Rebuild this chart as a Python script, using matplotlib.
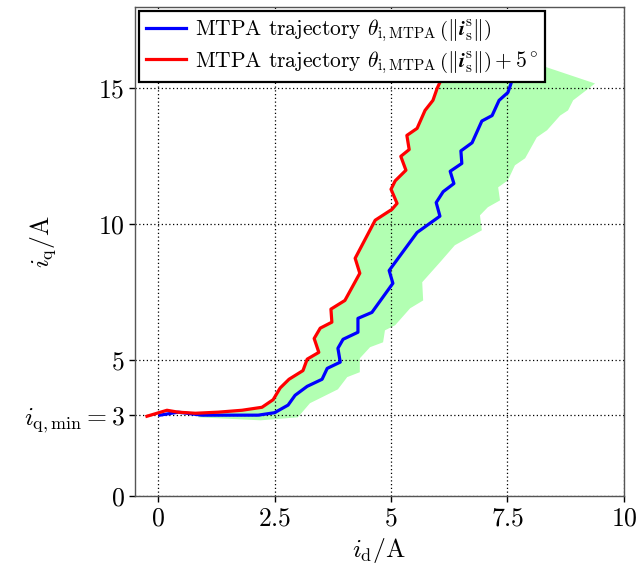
import numpy as np
import matplotlib
matplotlib.use('Agg')
import matplotlib.pyplot as plt

plt.rcParams['font.family'] = 'serif'
plt.rcParams['font.serif'] = ['cmr10']
plt.rcParams['mathtext.fontset'] = 'cm'
plt.rcParams['axes.unicode_minus'] = False

# MTPA trajectory (blue)
mtpa_id = [0.04, 0.43, 0.94, 2.15, 2.5, 2.79, 2.94, 3.2, 3.52, 3.63, 3.91, 3.86, 3.97,
           4.29, 4.29, 4.59, 5.04, 4.96, 5.56, 6.05, 5.97, 6.12, 6.35, 6.27, 6.52, 6.5,
           6.74, 6.95, 7.17, 7.32, 7.51, 7.6, 7.68, 7.8]
mtpa_iq = [2.98, 3.09, 2.98, 2.98, 3.07, 3.35, 3.71, 4.04, 4.3, 4.7, 4.93, 5.44, 5.77,
           6.03, 6.54, 6.76, 7.83, 8.3, 9.7, 10.3, 10.8, 11.2, 11.5, 11.95, 12.24, 12.7,
           13.0, 13.8, 14.0, 14.56, 14.85, 15.3, 15.66, 16.0]

# MTPA trajectory + 5 deg (red)
mtpa5_id = [-0.24, 0.19, 0.43, 0.8, 1.29, 1.8, 2.23, 2.47, 2.62, 2.81, 3.11, 3.2, 3.45,
            3.35, 3.48, 3.73, 3.71, 4.01, 4.33, 4.23, 4.66, 5.02, 5.13, 5.0, 5.09, 5.32,
            5.21, 5.39, 5.34, 5.56, 5.73, 5.9, 5.99, 6.09, 6.2]
mtpa5_iq = [2.94, 3.16, 3.09, 3.05, 3.09, 3.16, 3.27, 3.55, 3.98, 4.3, 4.62, 5.04, 5.29,
            5.8, 6.18, 6.4, 6.88, 7.2, 8.2, 8.75, 10.15, 10.55, 10.77, 11.29, 11.6, 11.99,
            12.5, 12.75, 13.27, 13.53, 14.19, 14.56, 15.0, 15.37, 16.0]

# operating region, upper-left edge then lower-right edge
region_left_id = [0.86, 1.29, 1.8, 2.23, 2.47, 2.62, 2.81, 3.11, 3.2, 3.45, 3.35, 3.48,
                  3.73, 3.71, 4.01, 4.33, 4.23, 4.66, 5.02, 5.13, 5.0, 5.09, 5.32, 5.21,
                  5.39, 5.34, 5.56, 5.73, 5.9, 5.99, 6.09, 6.2, 8.3]
region_left_iq = [3.05, 3.09, 3.16, 3.27, 3.55, 3.98, 4.3, 4.62, 5.04, 5.29, 5.8, 6.18,
                  6.4, 6.88, 7.2, 8.2, 8.75, 10.15, 10.55, 10.77, 11.29, 11.6, 11.99, 12.5,
                  12.75, 13.27, 13.53, 14.19, 14.56, 15.0, 15.37, 16.0, 15.8]
region_right_id = [9.38, 8.91, 8.8, 8.63, 8.35, 8.13, 7.88, 7.66, 7.51, 7.3, 7.34, 7.08,
                   6.91, 6.95, 6.37, 6.05, 5.67, 5.69, 5.41, 5.09, 4.87, 4.83, 4.55, 4.33,
                   4.33, 4.06, 3.86, 3.52, 3.26, 3.0, 2.2, 0.86]
region_right_iq = [15.18, 14.56, 14.19, 14.0, 13.46, 13.2, 12.43, 12.17, 11.62, 11.36,
                   10.88, 10.63, 10.33, 9.78, 9.23, 8.6, 7.87, 7.2, 6.91, 6.29, 6.1, 5.66,
                   5.48, 5.07, 4.56, 4.38, 3.93, 3.64, 3.42, 2.9, 2.79, 2.9]

xticks = [0, 2.5, 5, 7.5, 10]
xticklabels = ['$0$', '$2.5$', '$5$', '$7.5$', '$10$']
yticks = [0, 3, 5, 10, 15]
yticklabels = ['$0$', r'$i_{\mathrm{q,min}} = 3$', '$5$', '$10$', '$15$']

fig = plt.figure(figsize=(6.36, 5.69), dpi=100)
ax = fig.add_axes([0.212, 0.128, 0.769, 0.860])

ax.fill(region_left_id + region_right_id, region_left_iq + region_right_iq,
        color='lime', alpha=0.3, linewidth=0, zorder=1)
ax.plot(mtpa_id, mtpa_iq, color='#0000ff', lw=2.3, zorder=3,
        label=r'MTPA trajectory $\theta_{\mathrm{i,MTPA}}\,\left(\Vert\boldsymbol{i}_\mathrm{s}^\mathrm{s}\Vert\right)$')
ax.plot(mtpa5_id, mtpa5_iq, color='#ff0000', lw=2.3, zorder=3,
        label=r'MTPA trajectory $\theta_{\mathrm{i,MTPA}}\,\left(\Vert\boldsymbol{i}_\mathrm{s}^\mathrm{s}\Vert\right) + 5^\circ$')

ax.set_xlim(-0.5, 10)
ax.set_ylim(0, 18)
ax.set_xticks(xticks, labels=xticklabels, fontsize=18.5)
ax.set_yticks(yticks, labels=yticklabels, fontsize=18.5)
ax.tick_params(direction='out', length=4, width=1, color='black')
ax.grid(True, color='black', linestyle=(0, (1, 2)), linewidth=0.9, zorder=2)
for s in ax.spines.values():
    s.set_color('#555555')
    s.set_linewidth(1.0)

ax.set_xlabel(r'$i_\mathrm{d}/\mathrm{A}$', fontsize=18.5)
ax.set_ylabel(r'$i_\mathrm{q}/\mathrm{A}$', fontsize=18.5)
ax.yaxis.set_label_coords(-0.158, 0.52)

leg = ax.legend(loc='upper left', fontsize=15.5, fancybox=False, framealpha=1,
                edgecolor='black', borderaxespad=0.2, handlelength=1.9,
                handletextpad=0.4, borderpad=0.3, labelspacing=0.25)
leg.get_frame().set_linewidth(1.6)
leg.set_zorder(5)

fig.savefig('out.png', dpi=100)
